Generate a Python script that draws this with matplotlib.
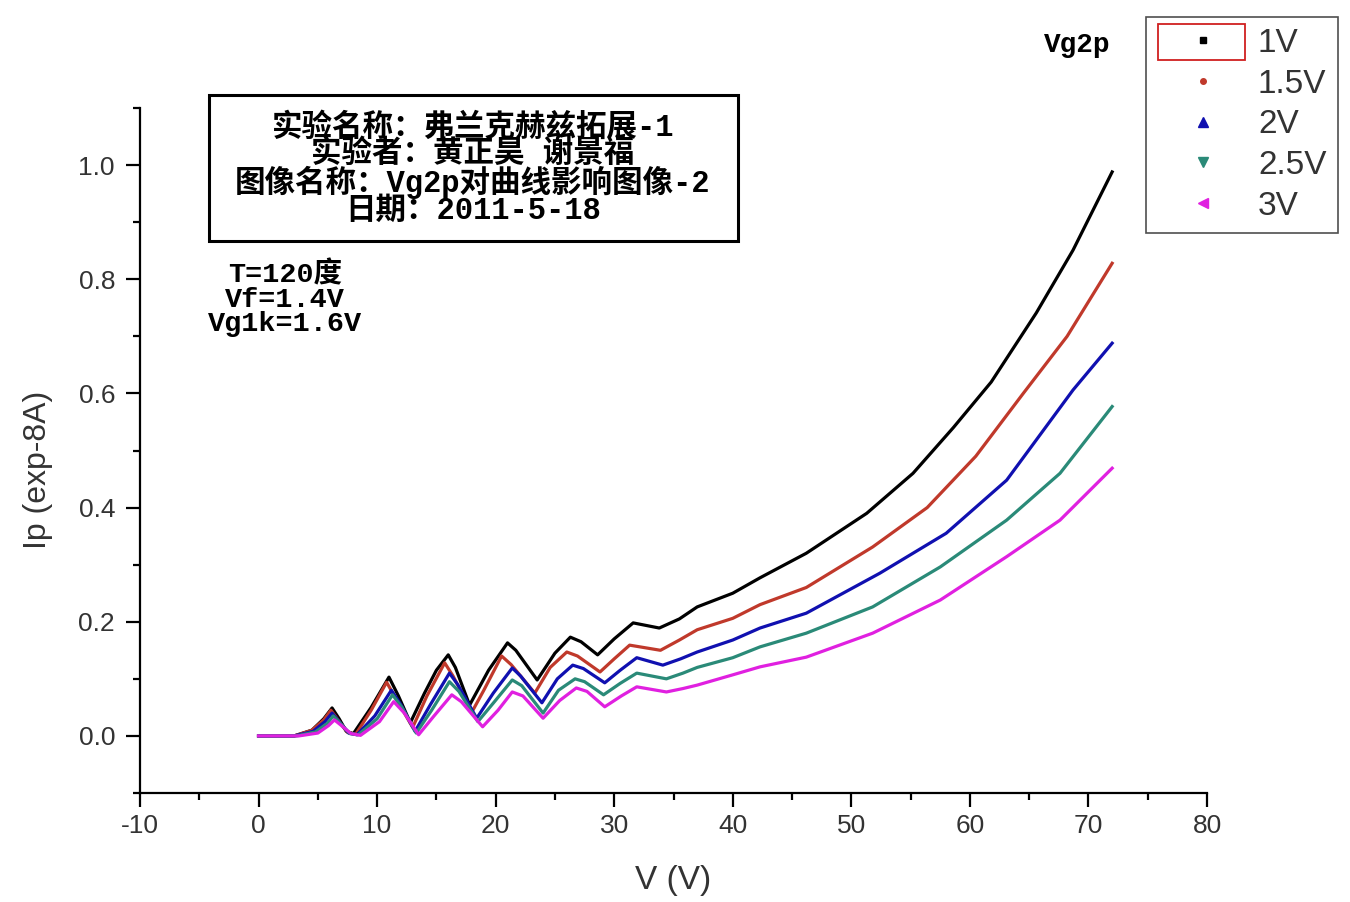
import matplotlib
matplotlib.use("Agg")
import matplotlib.pyplot as plt
from matplotlib.lines import Line2D
from matplotlib.patches import Rectangle
from matplotlib.ticker import MultipleLocator, FormatStrFormatter

plt.rcParams["font.family"] = ["Liberation Sans", "Noto Sans CJK SC"]
plt.rcParams["axes.unicode_minus"] = False

# Vg2p = 1V
v_1 = [0, 3.0, 4.5, 5.5, 6.2, 6.8, 7.4, 8.0, 9.5, 11.0, 11.8, 12.8, 14.0, 15.0, 16.0, 16.6,
       17.8, 19.4, 21.0, 21.7, 23.5, 25.0, 26.3, 27.2, 28.6, 30.0, 31.6, 33.8, 35.5, 37.0,
       38.5, 40.0, 42.3, 46.2, 51.3, 55.2, 58.6, 61.8, 65.6, 68.7, 72.0]
ip_1 = [0, 0, 0.01, 0.03, 0.049, 0.03, 0.008, 0.004, 0.05, 0.103, 0.07, 0.023, 0.075, 0.115,
        0.142, 0.12, 0.054, 0.115, 0.163, 0.15, 0.098, 0.145, 0.173, 0.165, 0.142, 0.17, 0.198,
        0.189, 0.205, 0.226, 0.238, 0.25, 0.277, 0.32, 0.39, 0.46, 0.54, 0.62, 0.741, 0.851, 0.988]

# Vg2p = 1.5V
v_15 = [0, 3.0, 4.5, 5.5, 6.1, 6.7, 7.5, 8.2, 9.5, 10.8, 11.6, 13.0, 14.2, 15.7, 16.4, 18.0,
        19.0, 20.5, 21.3, 23.3, 24.6, 26.0, 26.9, 28.8, 30.0, 31.3, 33.9, 35.5, 37.0, 40.0,
        42.3, 46.2, 51.8, 56.4, 60.5, 64.5, 68.2, 72.0]
ip_15 = [0, 0, 0.01, 0.028, 0.045, 0.028, 0.006, 0.003, 0.045, 0.094, 0.065, 0.015, 0.07,
         0.128, 0.105, 0.042, 0.08, 0.14, 0.125, 0.075, 0.12, 0.147, 0.14, 0.112, 0.135, 0.159,
         0.15, 0.168, 0.186, 0.206, 0.23, 0.26, 0.331, 0.40, 0.49, 0.60, 0.70, 0.828]

# Vg2p = 2V
v_2 = [0, 3.0, 4.6, 5.6, 6.2, 6.8, 7.6, 8.3, 9.8, 11.2, 12.0, 13.2, 14.5, 16.1, 16.8, 18.4,
       19.8, 21.4, 22.1, 23.9, 25.2, 26.5, 27.4, 29.2, 30.5, 31.9, 34.1, 35.6, 37.0, 40.0,
       42.3, 46.2, 52.4, 58.0, 63.1, 65.3, 68.7, 72.0]
ip_2 = [0, 0, 0.008, 0.025, 0.04, 0.025, 0.005, 0.002, 0.035, 0.08, 0.055, 0.008, 0.055, 0.11,
        0.09, 0.031, 0.075, 0.119, 0.105, 0.058, 0.1, 0.124, 0.118, 0.093, 0.115, 0.137, 0.124,
        0.135, 0.147, 0.168, 0.189, 0.215, 0.285, 0.355, 0.448, 0.51, 0.606, 0.688]

# Vg2p = 2.5V
v_25 = [0, 3.2, 4.8, 5.8, 6.3, 6.9, 7.7, 8.4, 10.0, 11.3, 12.1, 13.3, 14.6, 16.1, 16.9, 18.5,
        19.9, 21.4, 22.2, 24.0, 25.3, 26.7, 27.5, 29.1, 30.5, 31.9, 34.4, 35.8, 37.0, 40.0,
        42.3, 46.2, 51.8, 57.5, 63.1, 67.6, 72.0]
ip_25 = [0, 0, 0.007, 0.022, 0.035, 0.022, 0.004, 0.002, 0.03, 0.072, 0.05, 0.005, 0.045,
         0.095, 0.078, 0.025, 0.06, 0.098, 0.088, 0.04, 0.08, 0.10, 0.095, 0.072, 0.092, 0.11,
         0.10, 0.11, 0.12, 0.137, 0.156, 0.18, 0.226, 0.296, 0.378, 0.46, 0.577]

# Vg2p = 3V
v_3 = [0, 3.4, 5.0, 5.9, 6.4, 7.0, 7.8, 8.6, 10.2, 11.4, 12.3, 13.5, 14.8, 16.3, 17.1, 18.9,
       20.2, 21.4, 22.3, 24.0, 25.4, 26.8, 27.7, 29.2, 30.6, 31.9, 34.4, 35.8, 37.0, 40.0,
       42.3, 46.2, 51.8, 57.5, 63.1, 67.6, 72.0]
ip_3 = [0, 0, 0.005, 0.018, 0.028, 0.018, 0.004, 0.001, 0.025, 0.06, 0.04, 0.002, 0.035,
        0.072, 0.06, 0.016, 0.045, 0.077, 0.07, 0.031, 0.062, 0.084, 0.078, 0.051, 0.07, 0.086,
        0.077, 0.083, 0.089, 0.107, 0.121, 0.138, 0.18, 0.238, 0.314, 0.378, 0.469]

labels = ["1V", "1.5V", "2V", "2.5V", "3V"]
colors = ["#000000", "#c0392b", "#1010b0", "#2a8a78", "#e020e0"]
markers = ["s", "o", "^", "v", "<"]

series = [(v_1, ip_1), (v_15, ip_15), (v_2, ip_2), (v_25, ip_25), (v_3, ip_3)]

fig = plt.figure(figsize=(13.5, 9.02), dpi=100)
ax = fig.add_axes([140 / 1350, 1 - 793 / 902, 1067 / 1350, 685 / 902])

for (v, ip), c in zip(series, colors):
    ax.plot(v, ip, color=c, lw=2.3)

ax.set_xlim(-10, 80)
ax.set_ylim(-0.1, 1.1)
ax.xaxis.set_major_locator(MultipleLocator(10))
ax.xaxis.set_minor_locator(MultipleLocator(5))
ax.yaxis.set_major_locator(MultipleLocator(0.2))
ax.yaxis.set_minor_locator(MultipleLocator(0.1))
ax.yaxis.set_major_formatter(FormatStrFormatter("%.1f"))

for side in ["top", "right"]:
    ax.spines[side].set_visible(False)
for side in ["left", "bottom"]:
    ax.spines[side].set_linewidth(1.6)

ax.tick_params(which="major", direction="out", length=10, width=1.6, labelsize=19,
               colors="black", labelcolor="#333333")
ax.tick_params(which="minor", direction="out", length=5, width=1.6)
ax.tick_params(axis="y", which="major", pad=8)
ax.tick_params(axis="x", which="major", pad=5)

ax.set_xlabel("V (V)", fontsize=24, color="#333333", va="center")
ax.xaxis.set_label_coords(0.5, (793 - 880) / 685)
ax.set_ylabel("Ip (exp-8A)", fontsize=23, color="#333333", va="center")
ax.yaxis.set_label_coords((38 - 140) / 1067, (793 - 470) / 685)

# title box
fig.add_artist(Rectangle((209 / 1350, 1 - 241 / 902), 529 / 1350, 146 / 902,
                         transform=fig.transFigure, fill=False, edgecolor="black", lw=2.2))
box_lines = ["实验名称：弗兰克赫兹拓展-1",
             "实验者：黄正昊 谢景福",
             "图像名称：Vg2p对曲线影响图像-2",
             "日期：2011-5-18"]
mono = ["Liberation Mono", "Noto Sans CJK SC"]
fig.text(473 / 1350, 1 - 169 / 902, "\n".join(box_lines), ha="center", va="center",
         multialignment="center", fontsize=22, fontweight="bold", family=mono,
         linespacing=0.86)

cond_lines = ["T=120度", "Vf=1.4V", "Vg1k=1.6V"]
fig.text(285 / 1350, 1 - 299 / 902, "\n".join(cond_lines), ha="center", va="center",
         multialignment="center", fontsize=20.5, fontweight="bold", family=mono,
         linespacing=0.9)

fig.text(1077 / 1350, 1 - 45 / 902, "Vg2p", ha="center", va="center", fontsize=20,
         fontweight="bold", family=mono)

handles = [Line2D([], [], ls="none", marker=m, color=c, markersize=ms)
           for m, c, ms in zip(markers, colors, [4, 4, 7, 7, 7])]
leg = ax.legend(handles, labels, loc="upper left", bbox_to_anchor=(1146 / 1350, 1 - 17 / 902),
                bbox_transform=fig.transFigure, borderaxespad=0, fontsize=24,
                frameon=True, fancybox=False, edgecolor="#222222", borderpad=0.33,
                handlelength=2.76, handletextpad=0.27, labelspacing=0.29)
leg.get_frame().set_linewidth(1.2)
for t in leg.get_texts():
    t.set_color("#333333")

fig.add_artist(Rectangle((1158 / 1350, 1 - 60 / 902), 87 / 1350, 36 / 902,
                         transform=fig.transFigure, fill=False, edgecolor="#d02020", lw=1.3))

fig.savefig("out.png", dpi=100, facecolor="white")
